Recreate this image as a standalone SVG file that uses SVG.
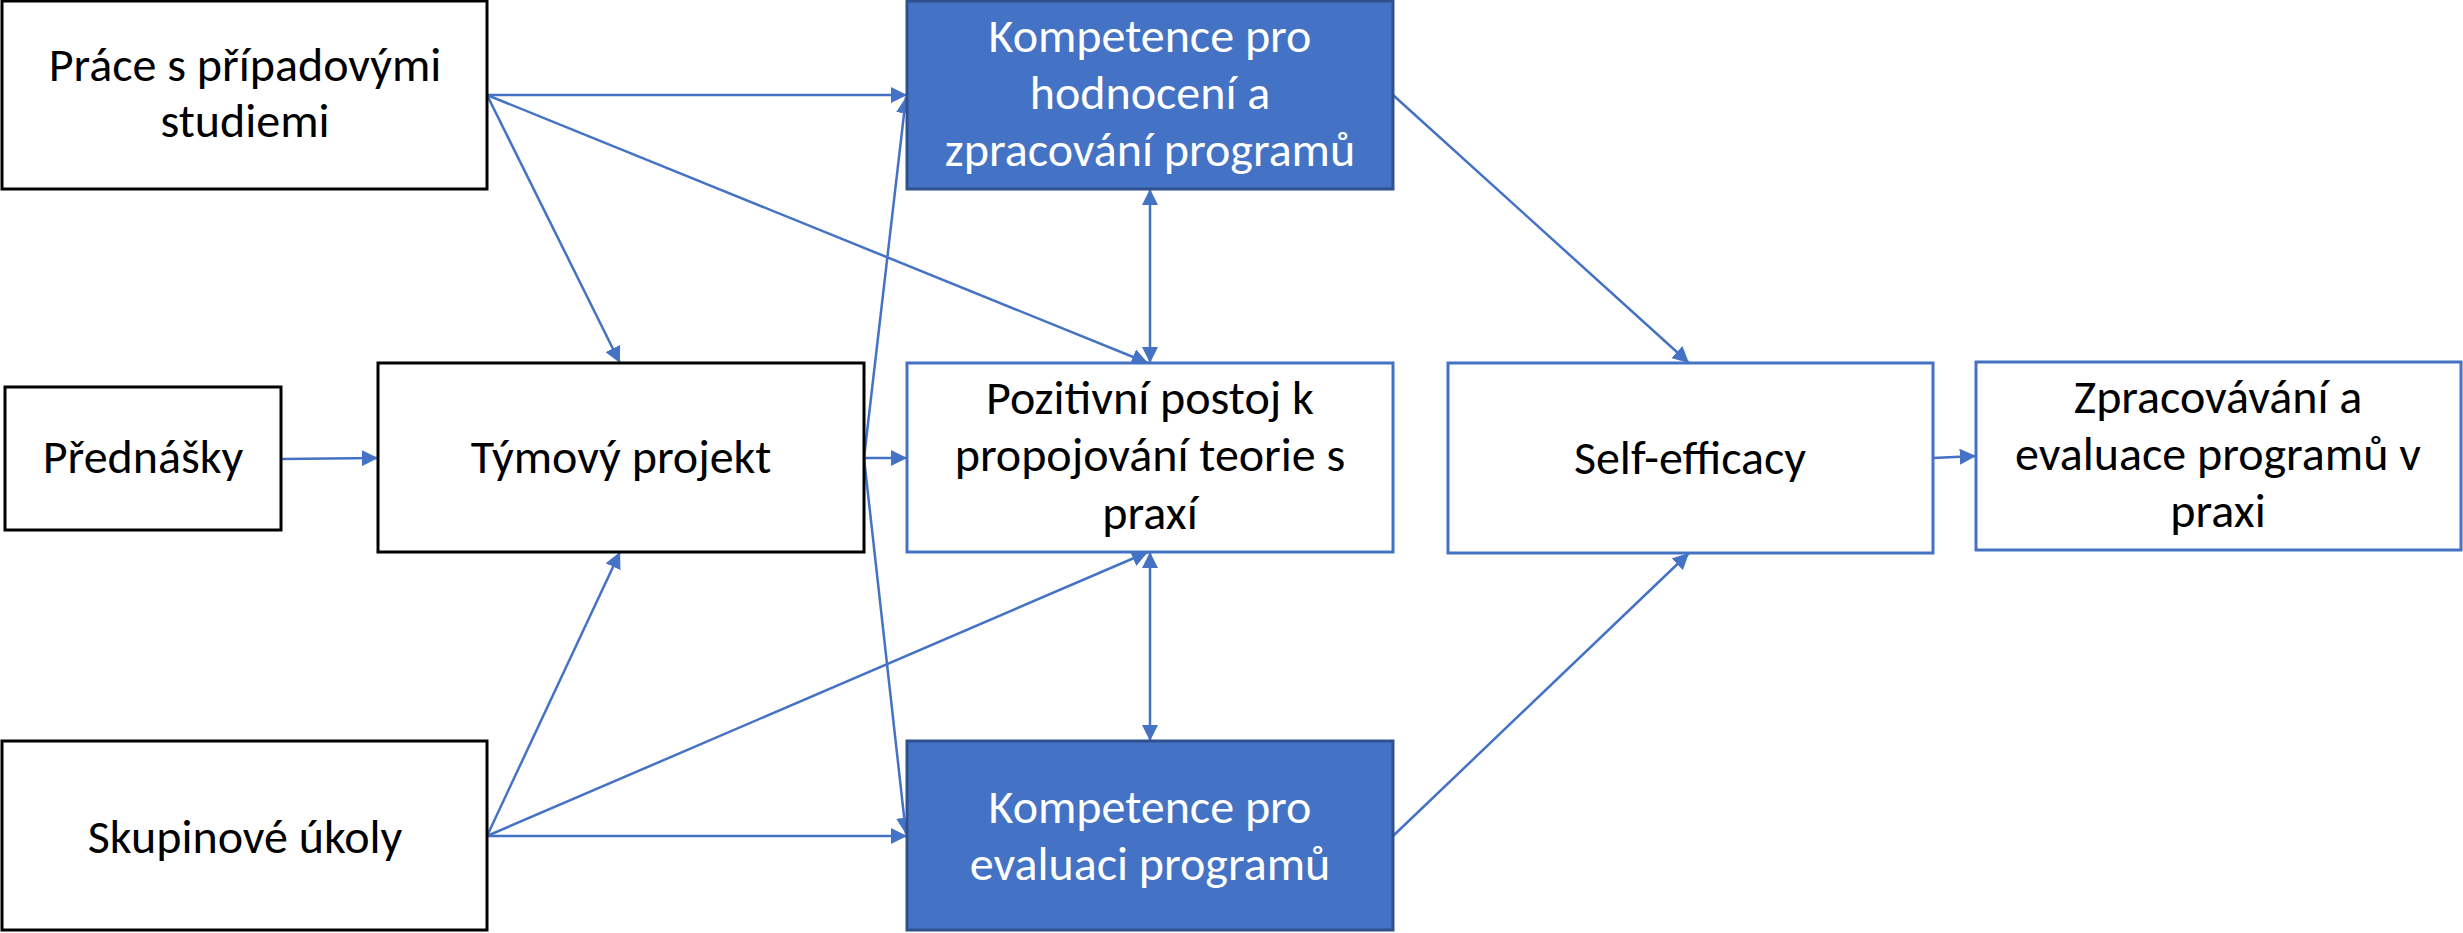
<svg xmlns="http://www.w3.org/2000/svg" width="2463" height="933" viewBox="0 0 2463 933">
<style>
.bk{fill:#fff;stroke:#000;stroke-width:3}
.bl{fill:#fff;stroke:#4472C4;stroke-width:3}
.fl{fill:#4472C4;stroke:#2F528F;stroke-width:3}
text{font-family:Carlito,"Liberation Sans Narrow","DejaVu Sans Condensed","Liberation Sans",sans-serif;font-size:48px;text-anchor:middle;fill:#000}
.w{fill:#fff}
.c line{stroke:#4472C4;stroke-width:2.5;fill:none}
</style>
<defs>
<marker id="a" viewBox="0 0 10 10" refX="10" refY="5" markerWidth="6.5" markerHeight="6.5" orient="auto-start-reverse" markerUnits="strokeWidth">
<path d="M0,0L10,5L0,10z" fill="#4472C4"/>
</marker>
</defs>
<g class="c">
<line x1="487" y1="95" x2="907" y2="95" marker-end="url(#a)"/>
<line x1="487" y1="95" x2="620" y2="363" marker-end="url(#a)"/>
<line x1="487" y1="95" x2="1148" y2="363" marker-end="url(#a)"/>
<line x1="281" y1="459" x2="378" y2="458" marker-end="url(#a)"/>
<line x1="864" y1="458" x2="907" y2="458" marker-end="url(#a)"/>
<line x1="864" y1="458" x2="906" y2="97" marker-end="url(#a)"/>
<line x1="864" y1="458" x2="906" y2="834" marker-end="url(#a)"/>
<line x1="487" y1="836" x2="620" y2="552" marker-end="url(#a)"/>
<line x1="487" y1="836" x2="1148" y2="552" marker-end="url(#a)"/>
<line x1="487" y1="836" x2="907" y2="836" marker-end="url(#a)"/>
<line x1="1150" y1="189" x2="1150" y2="363" marker-start="url(#a)" marker-end="url(#a)"/>
<line x1="1150" y1="552" x2="1150" y2="741" marker-start="url(#a)" marker-end="url(#a)"/>
<line x1="1393" y1="95" x2="1689" y2="363" marker-end="url(#a)"/>
<line x1="1393" y1="836" x2="1689" y2="553" marker-end="url(#a)"/>
<line x1="1933" y1="458" x2="1976" y2="456" marker-end="url(#a)"/>
</g>
<g id="prace"><rect class="bk" x="2" y="1" width="485" height="188"/><text x="245" y="81">Práce s případovými</text><text x="245" y="137">studiemi</text></g>
<g id="prednasky"><rect class="bk" x="5" y="387" width="276" height="143"/><text x="143" y="473">Přednášky</text></g>
<g id="tymovy"><rect class="bk" x="378" y="363" width="486" height="189"/><text x="621" y="473">Týmový projekt</text></g>
<g id="skupinove"><rect class="bk" x="2" y="741" width="485" height="189"/><text x="245" y="853">Skupinové úkoly</text></g>
<g id="komp-hodnoceni"><rect class="fl" x="907" y="1" width="486" height="188"/><text class="w" x="1150" y="52">Kompetence pro</text><text class="w" x="1150" y="109">hodnocení a</text><text class="w" x="1150" y="166">zpracování programů</text></g>
<g id="pozitivni"><rect class="bl" x="907" y="363" width="486" height="189"/><text x="1150" y="414">Pozitivní postoj k</text><text x="1150" y="471">propojování teorie s</text><text x="1150" y="529">praxí</text></g>
<g id="komp-evaluace"><rect class="fl" x="907" y="741" width="486" height="189"/><text class="w" x="1150" y="823">Kompetence pro</text><text class="w" x="1150" y="880">evaluaci programů</text></g>
<g id="self"><rect class="bl" x="1448" y="363" width="485" height="190"/><text x="1690" y="474">Self-efficacy</text></g>
<g id="zprac"><rect class="bl" x="1976" y="362" width="485" height="188"/><text x="2218" y="413">Zpracovávání a</text><text x="2218" y="470">evaluace programů v</text><text x="2218" y="527">praxi</text></g>
</svg>
